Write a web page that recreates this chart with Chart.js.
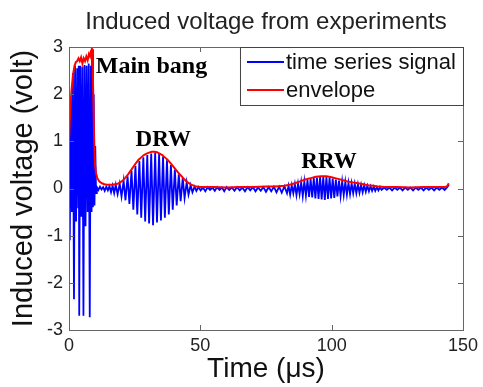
<!DOCTYPE html>
<html>
<head>
<meta charset="utf-8">
<script src="https://cdn.jsdelivr.net/npm/chart.js@4.4.1/dist/chart.umd.min.js"></script>
<style>
  html, body { margin: 0; padding: 0; background: #fff; }
  #wrap { width: 483px; height: 387px; position: relative; }
</style>
</head>
<body>
<div id="wrap"><canvas id="voltChart"></canvas></div>
<script>
// Induced voltage from experiments - signal + envelope

const titleText = "Induced voltage from experiments";
const xTicks = [0, 50, 100, 150];
const yTicks = [-3, -2, -1, 0, 1, 2, 3];

// time series signal (µs, volt)
const sigT = [
  0.0, 0.3, 0.7, 1.1, 1.5, 1.9, 2.3, 2.7, 3.1, 3.5, 3.7, 3.9, 4.3, 4.7, 5.1, 5.5, 5.9, 6.3, 6.7, 7.1,
  7.5, 7.9, 8.3, 8.6, 8.8, 9.1, 9.4, 9.7, 10.0, 10.3, 10.6,
  11.2, 11.8, 12.4, 13.0, 13.6, 14.2, 14.8, 15.4, 16.0, 16.6, 17.2,
  17.8, 18.5, 19.3, 20.0, 20.8, 21.5, 22.3, 23.0, 23.8, 24.5, 25.3, 26.0, 26.8, 27.5, 28.3, 29.0,
  29.8, 30.5, 31.3, 32.0, 32.8, 33.5, 34.3, 35.0, 35.8, 36.5, 37.3, 38.0, 38.8, 39.5, 40.3, 41.0,
  41.8, 42.5, 43.3, 44.0, 44.8, 45.5, 46.3, 47.0, 47.8, 48.5,
  49.3, 50.1, 51.0, 51.9, 52.8, 53.7, 54.6, 55.5, 56.4, 57.3, 58.2, 59.1, 60.0, 61.0, 62.0, 63.0,
  64.0, 65.0, 66.0, 67.0, 68.0, 69.0, 70.0, 71.0, 72.0, 73.0, 74.0, 75.0, 76.0, 77.0, 78.0, 79.0,
  80.0, 81.0, 82.0, 83.0,
  83.6, 84.2, 84.8, 85.4, 86.0, 86.6, 87.2, 87.8, 88.4, 89.0, 89.6, 90.2, 90.8, 91.4, 92.0, 92.6,
  93.2, 93.8, 94.4, 95.0, 95.6, 96.2, 96.8, 97.4, 98.0, 98.6, 99.2, 99.8, 100.4, 101.0, 101.6, 102.2,
  102.8, 103.4, 104.0, 104.6, 105.2, 105.8, 106.4, 107.0, 107.6, 108.2, 108.8, 109.4, 110.0, 110.6,
  111.2, 111.8, 112.4, 113.0, 113.6, 114.2, 114.8, 115.4, 116.0, 116.6, 117.2, 117.8, 118.4, 119.0,
  120, 121, 122, 123, 124, 125, 126, 127, 128, 129, 130, 131, 132, 133, 134, 135, 136, 137, 138,
  139, 140, 141, 142, 143, 144, 144.6
];
const sigV = [
  0.3, -1.1, 1.9, -0.5, 2.45, -2.35, 2.6, -0.7, 2.55, -0.4, 2.6, -2.7, 2.6, -0.6, 2.58, -2.7, 2.62, -0.8, 2.6, -0.5,
  2.65, -2.73, 2.6, -0.5, 2.95, -0.4, 2.0, -0.36, 0.9, -0.1, 0.03,
  -0.03, 0.04, -0.02, 0.03, -0.05, 0.04, -0.04, 0.05, -0.08, 0.06, -0.1,
  0.08, -0.12, 0.1, -0.17, 0.16, -0.25, 0.26, -0.33, 0.38, -0.45, 0.48, -0.55, 0.58, -0.62, 0.66, -0.7,
  0.71, -0.74, 0.74, -0.78, 0.76, -0.72, 0.73, -0.68, 0.68, -0.62, 0.6, -0.55, 0.5, -0.45, 0.4, -0.36,
  0.3, -0.27, 0.22, -0.2, 0.13, -0.13, 0.07, -0.08, 0.04, -0.05,
  0.03, -0.04, 0.02, -0.06, 0.03, -0.03, 0.02, -0.05, 0.03, -0.03, 0.02, -0.06, 0.03, -0.03, 0.02, -0.05,
  0.03, -0.04, 0.02, -0.06, 0.03, -0.04, 0.03, -0.06, 0.02, -0.05, 0.03, -0.07, 0.03, -0.06, 0.04, -0.08,
  0.04, -0.09, 0.05, -0.1,
  0.06, -0.13, 0.07, -0.1, 0.09, -0.14, 0.1, -0.12, 0.13, -0.16, 0.15, -0.15, 0.18, -0.18, 0.2, -0.19,
  0.22, -0.21, 0.23, -0.22, 0.24, -0.23, 0.25, -0.24, 0.24, -0.22, 0.23, -0.21, 0.21, -0.2, 0.19, -0.17,
  0.17, -0.16, 0.15, -0.14, 0.14, -0.13, 0.12, -0.12, 0.11, -0.1, 0.1, -0.1, 0.09, -0.09,
  0.08, -0.08, 0.07, -0.07, 0.06, -0.06, 0.05, -0.05, 0.04, -0.05, 0.03, -0.04, 0.03, -0.03,
  0.02, -0.03, 0.02, -0.04, 0.02, -0.03, 0.02, -0.04, 0.02, -0.03, 0.02, -0.04, 0.02, -0.03, 0.02, -0.04, 0.02, -0.03, 0.02,
  -0.04, 0.02, -0.03, 0.02, -0.03, 0.03, 0.08
];

// envelope (µs, volt)
const envT = [
  0, 0.4, 0.9, 1.5, 2.1, 2.6, 3.1, 3.6, 4.1, 4.6, 5.1, 5.6, 6.1, 6.6, 7.1, 7.6, 8.0, 8.4, 8.7, 9.0,
  9.3, 9.6, 9.9, 10.3, 10.8, 11.5, 12.5, 13.5, 14.5, 15.5, 16.5, 17.5, 18.5, 19.5, 20.5, 21.5, 22.5,
  23.5, 24.5, 25.5, 26.5, 27.5, 28.5, 29.5, 30.5, 31.5, 32.5, 33.5, 34.5, 35.5, 36.5, 37.5, 38.5,
  39.5, 40.5, 41.5, 42.5, 43.5, 44.5, 45.5, 46.5, 47.5, 48.5, 50, 55, 60, 65, 70, 75, 78, 80, 82,
  84, 86, 88, 90, 92, 94, 96, 98, 100, 102, 104, 106, 108, 110, 112, 114, 116, 118, 120, 125, 130,
  135, 140, 143, 144, 144.6
];
const envV = [
  1.0, 1.6, 2.05, 2.4, 2.6, 2.68, 2.7, 2.76, 2.7, 2.78, 2.65, 2.76, 2.7, 2.8, 2.72, 2.85, 2.8, 2.92, 3.0, 2.6,
  1.8, 1.0, 0.5, 0.32, 0.22, 0.15, 0.11, 0.09, 0.08, 0.08, 0.08, 0.09, 0.1, 0.13, 0.17, 0.23, 0.3,
  0.38, 0.46, 0.54, 0.61, 0.66, 0.71, 0.74, 0.76, 0.78, 0.78, 0.77, 0.74, 0.71, 0.66, 0.61, 0.55,
  0.48, 0.41, 0.34, 0.28, 0.22, 0.16, 0.12, 0.08, 0.06, 0.04, 0.03, 0.03, 0.02, 0.03, 0.03, 0.04, 0.04, 0.05, 0.06,
  0.08, 0.11, 0.15, 0.19, 0.22, 0.25, 0.26, 0.26, 0.24, 0.21, 0.18, 0.15, 0.13, 0.11, 0.09, 0.07, 0.06, 0.04, 0.03, 0.03, 0.02,
  0.03, 0.03, 0.03, 0.05, 0.11
];

// text labels placed in data units
const noteText = ["Main bang", "DRW", "RRW"];
const noteX = [10.2, 35.9, 99];
const noteY = [2.58, 1.02, 0.55];
const noteAlign = ["left", "center", "center"];
const noteSize = [24, 23, 23];

const legendItems = [
  { text: "time series signal", color: "#0000ff" },
  { text: "envelope", color: "#ff0000" }
];

const frame = {
  id: "frame",
  afterDatasetsDraw(chart) {
    const { ctx, chartArea: a, scales: { x, y } } = chart;
    ctx.save();

    // title
    ctx.fillStyle = "#222";
    ctx.font = "24px 'Liberation Sans', Arial, sans-serif";
    ctx.textAlign = "center";
    ctx.textBaseline = "alphabetic";
    ctx.fillText(titleText, (a.left + a.right) / 2, 29);

    // box and inward ticks
    ctx.strokeStyle = "#666";
    ctx.lineWidth = 1;
    ctx.strokeRect(a.left + 0.5, a.top + 0.5, a.right - a.left, a.bottom - a.top);
    ctx.beginPath();
    xTicks.forEach(v => {
      const px = Math.round(x.getPixelForValue(v)) + 0.5;
      ctx.moveTo(px, a.bottom); ctx.lineTo(px, a.bottom - 5);
      ctx.moveTo(px, a.top); ctx.lineTo(px, a.top + 5);
    });
    yTicks.forEach(v => {
      const py = Math.round(y.getPixelForValue(v)) + 0.5;
      ctx.moveTo(a.left, py); ctx.lineTo(a.left + 5, py);
      ctx.moveTo(a.right, py); ctx.lineTo(a.right - 5, py);
    });
    ctx.stroke();

    // annotations
    ctx.fillStyle = "#000";
    ctx.textBaseline = "middle";
    noteText.forEach((t, i) => {
      ctx.font = `bold ${noteSize[i]}px 'Liberation Serif', 'Times New Roman', serif`;
      ctx.textAlign = noteAlign[i];
      ctx.fillText(t, x.getPixelForValue(noteX[i]), y.getPixelForValue(noteY[i]));
    });

    // legend box, top right
    const lx = a.right - 223, ly = a.top, lw = 223, lh = 58;
    ctx.fillStyle = "#fff";
    ctx.fillRect(lx, ly, lw, lh);
    ctx.strokeStyle = "#444";
    ctx.strokeRect(lx + 0.5, ly + 0.5, lw, lh);
    ctx.font = "22px 'Liberation Sans', Arial, sans-serif";
    ctx.textAlign = "left";
    ctx.textBaseline = "alphabetic";
    legendItems.forEach((it, i) => {
      const cy = ly + 15 + i * 28;
      ctx.strokeStyle = it.color;
      ctx.lineWidth = 2;
      ctx.beginPath();
      ctx.moveTo(lx + 7, cy); ctx.lineTo(lx + 44, cy);
      ctx.stroke();
      ctx.fillStyle = "#111";
      ctx.fillText(it.text, lx + 46, cy + 7);
    });
    ctx.restore();
  }
};

const ctx = document.getElementById("voltChart").getContext("2d");
new Chart(ctx, {
  type: "line",
  data: {
    datasets: [
      {
        label: legendItems[0].text,
        data: sigT.map((t, i) => ({ x: t, y: sigV[i] })),
        borderColor: "#0000ff",
        borderWidth: 1.8,
        pointRadius: 0,
        tension: 0,
        order: 2
      },
      {
        label: legendItems[1].text,
        data: envT.map((t, i) => ({ x: t, y: envV[i] })),
        borderColor: "#ff0000",
        borderWidth: 2,
        pointRadius: 0,
        tension: 0,
        order: 1
      }
    ]
  },
  options: {
    responsive: true,
    maintainAspectRatio: false,
    animation: false,
    layout: { padding: { left: 0, right: 17, top: 47, bottom: 0 } },
    plugins: {
      legend: { display: false },
      tooltip: { enabled: false },
      title: { display: false }
    },
    scales: {
      x: {
        type: "linear",
        min: 0,
        max: 150,
        afterBuildTicks: s => { s.ticks = xTicks.map(v => ({ value: v })); },
        afterFit: s => { s.height = 57; },
        grid: { display: false, drawTicks: false },
        border: { display: false },
        ticks: { color: "#222", padding: 5, font: { family: "'Liberation Sans', Arial", size: 18 } },
        title: {
          display: true,
          text: "Time (μs)",
          color: "#111",
          font: { family: "'Liberation Sans', Arial", size: 28 },
          padding: { top: 0, bottom: 1 }
        }
      },
      y: {
        min: -3,
        max: 3,
        afterBuildTicks: s => { s.ticks = yTicks.map(v => ({ value: v })); },
        afterFit: s => { s.width = 69; },
        grid: { display: false, drawTicks: false },
        border: { display: false },
        ticks: { color: "#222", padding: 6, font: { family: "'Liberation Sans', Arial", size: 18 } },
        title: {
          display: true,
          text: "Induced voltage (volt)",
          color: "#111",
          font: { family: "'Liberation Sans', Arial", size: 29 },
          padding: { top: 7, bottom: 0 }
        }
      }
    }
  },
  plugins: [frame]
});
</script>
</body>
</html>
